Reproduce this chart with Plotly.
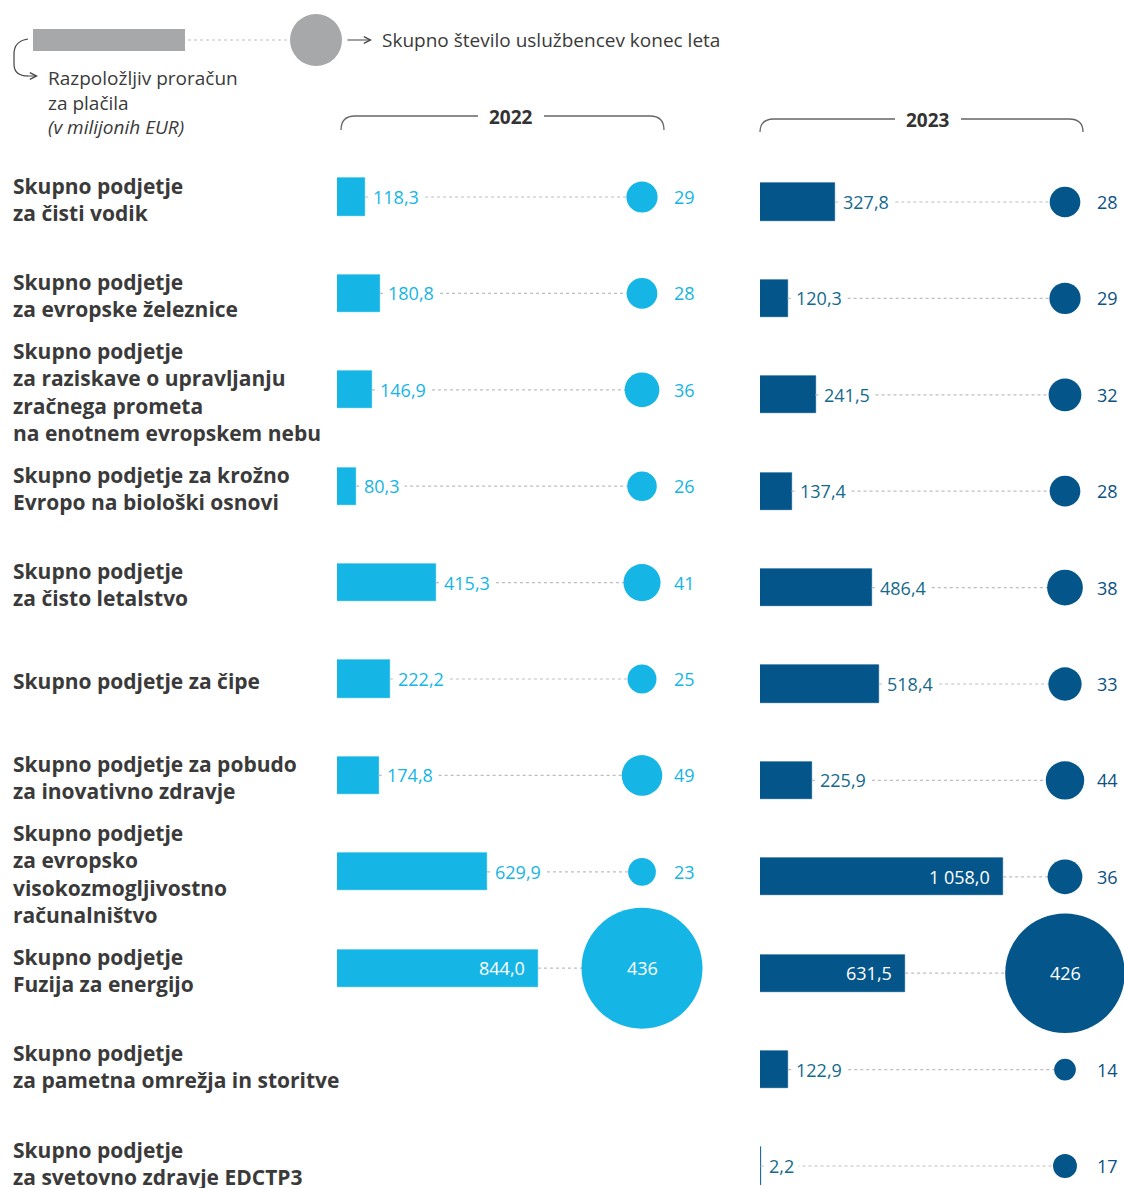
import plotly.graph_objects as go

W, H = 1124, 1188

# Data
names = [
    "Skupno podjetje<br>za čisti vodik",
    "Skupno podjetje<br>za evropske železnice",
    "Skupno podjetje<br>za raziskave o upravljanju<br>zračnega prometa<br>na enotnem evropskem nebu",
    "Skupno podjetje za krožno<br>Evropo na biološki osnovi",
    "Skupno podjetje<br>za čisto letalstvo",
    "Skupno podjetje za čipe",
    "Skupno podjetje za pobudo<br>za inovativno zdravje",
    "Skupno podjetje<br>za evropsko<br>visokozmogljivostno<br>računalništvo",
    "Skupno podjetje<br>Fuzija za energijo",
    "Skupno podjetje<br>za pametna omrežja in storitve",
    "Skupno podjetje<br>za svetovno zdravje EDCTP3",
]
budget_2022 = [118.3, 180.8, 146.9, 80.3, 415.3, 222.2, 174.8, 629.9, 844.0, None, None]
staff_2022 = [29, 28, 36, 26, 41, 25, 49, 23, 436, None, None]
budget_2023 = [327.8, 120.3, 241.5, 137.4, 486.4, 518.4, 225.9, 1058.0, 631.5, 122.9, 2.2]
staff_2023 = [28, 29, 32, 28, 38, 33, 44, 36, 426, 14, 17]
years = ["2022", "2023"]

FONT = "Open Sans"
TXT = "#3a3a3a"
LINE_GRAY = "#bdbdbd"
DASH = "3px,3px"


def px(x):
    return x / W


def py(y):
    return 1 - y / H


def fmt(v):
    return f"{v:,.1f}".replace(",", " ").replace(".", ",")


def row_range(first, pitch):
    return [(H - first) / pitch, -first / pitch]


panels = [
    dict(year=years[0], budget=budget_2022, staff=staff_2022, x0=337, x1=642, xmax=1281,
         first=197, color="#15b5e5", vcol="#15b5e5", scol="#15b5e5", xa="x", ya="y",
         br=(341, 664, 511, 116, 130)),
    dict(year=years[1], budget=budget_2023, staff=staff_2023, x0=760, x1=1065, xmax=1327,
         first=202, color="#04558a", vcol="#146a8c", scol="#0b5283", xa="x2", ya="y2",
         br=(760, 1083, 928, 119, 132)),
]

sizeref = 2 * max(staff_2022 + staff_2023, key=lambda v: v or 0) / (121 ** 2)

fig = go.Figure()
annotations = []
layout_axes = {}

for i, p in enumerate(panels):
    rows = [n for n, b in zip(names, p["budget"]) if b is not None]
    bvals = [b for b in p["budget"] if b is not None]
    svals = [s for s in p["staff"] if s is not None]

    # dashed connectors
    lx, ly = [], []
    for n, b in zip(rows, bvals):
        lx += [b, p["xmax"], None]
        ly += [n, n, None]
    fig.add_trace(go.Scatter(x=lx, y=ly, mode="lines", xaxis=p["xa"], yaxis=p["ya"],
                             line=dict(color=LINE_GRAY, width=1.2, dash=DASH),
                             hoverinfo="skip", showlegend=False))
    fig.add_trace(go.Bar(x=bvals, y=rows, orientation="h", width=0.385,
                         xaxis=p["xa"], yaxis=p["ya"],
                         marker=dict(color=p["color"], line=dict(width=0.6, color=p["color"])),
                         showlegend=False))
    fig.add_trace(go.Scatter(x=[p["xmax"]] * len(rows), y=rows, mode="markers",
                             xaxis=p["xa"], yaxis=p["ya"], cliponaxis=False,
                             marker=dict(size=svals, sizemode="area", sizeref=sizeref, opacity=1,
                                         color=p["color"], line=dict(width=0)),
                             showlegend=False))

    for n, b, s in zip(rows, bvals, svals):
        inside = b > 630
        annotations.append(dict(
            x=b, y=n, xref=p["xa"], yref=p["ya"], text=fmt(b), showarrow=False,
            xanchor="right" if inside else "left", yanchor="middle",
            xshift=-8 if inside else 3,
            font=dict(family=FONT, size=18, color="white" if inside else p["vcol"]),
            bgcolor=None if inside else "white", borderpad=4))
        big = s >= 100
        annotations.append(dict(
            x=p["xmax"], y=n, xref=p["xa"], yref=p["ya"], text=str(s), showarrow=False,
            xanchor="center", yanchor="middle", xshift=0 if big else 42,
            font=dict(family=FONT, size=18, color="white" if big else p["scol"])))

    suffix = "" if i == 0 else str(i + 1)
    layout_axes["xaxis" + suffix] = dict(domain=[px(p["x0"]), px(p["x1"])], range=[0, p["xmax"]],
                                         visible=False, anchor=p["ya"], fixedrange=True)
    layout_axes["yaxis" + suffix] = dict(domain=[0, 1], range=row_range(p["first"], 96.4),
                                         type="category", categoryorder="array",
                                         categoryarray=names, visible=False,
                                         anchor=p["xa"], fixedrange=True)

# row labels
for n in names:
    annotations.append(dict(x=px(11), y=n, xref="paper", yref="y", yshift=-2, text=f"<b>{n}</b>",
                            showarrow=False, xanchor="left", yanchor="middle", align="left",
                            font=dict(family=FONT, size=21, color=TXT)))

shapes = []
# year headers with brackets
for p in panels:
    xl, xr, tx, ytop, ybot = p["br"]
    annotations.append(dict(x=px(tx), y=py(ytop + 1), xref="paper", yref="paper",
                            text=f"<b>{p['year']}</b>", showarrow=False,
                            xanchor="center", yanchor="middle",
                            font=dict(family=FONT, size=19, color="#333333")))
    path = (f"M {px(xl)},{py(ybot)} Q {px(xl)},{py(ytop)} {px(xl + 14)},{py(ytop)} L {px(tx - 33)},{py(ytop)} "
            f"M {px(tx + 33)},{py(ytop)} L {px(xr - 14)},{py(ytop)} Q {px(xr)},{py(ytop)} {px(xr)},{py(ybot)}")
    shapes.append(dict(type="path", path=path, xref="paper", yref="paper",
                       line=dict(color="#666666", width=1.3)))

# legend key
shapes.append(dict(type="rect", xref="paper", yref="paper", x0=px(33), x1=px(185), y0=py(51), y1=py(29),
                   fillcolor="#a7a8aa", line=dict(width=0)))
shapes.append(dict(type="line", xref="paper", yref="paper", x0=px(188), x1=px(292), y0=py(40), y1=py(40),
                   line=dict(color=LINE_GRAY, width=1.2, dash=DASH)))
shapes.append(dict(type="circle", xref="paper", yref="paper", x0=px(290), x1=px(342), y0=py(66), y1=py(14),
                   fillcolor="#a7a8aa", line=dict(width=0)))
shapes.append(dict(type="path", xref="paper", yref="paper",
                   path=(f"M {px(28)},{py(39)} Q {px(14)},{py(41)} {px(14)},{py(54)} L {px(14)},{py(64)} "
                         f"Q {px(14)},{py(76)} {px(28)},{py(76)}"),
                   line=dict(color="#444444", width=1.2)))
annotations.append(dict(x=px(38), y=py(76), xref="paper", yref="paper", ax=-12, ay=0, text="",
                        showarrow=True, arrowhead=5, arrowsize=1.1, arrowwidth=1.2, arrowcolor="#444444"))
annotations.append(dict(x=px(372), y=py(40), xref="paper", yref="paper", ax=-26, ay=0, text="",
                        showarrow=True, arrowhead=5, arrowsize=1.1, arrowwidth=1.2, arrowcolor="#444444"))
annotations.append(dict(x=px(380), y=py(40), xref="paper", yref="paper", xanchor="left", yanchor="middle",
                        text="Skupno število uslužbencev konec leta", showarrow=False,
                        font=dict(family=FONT, size=19, color=TXT)))
annotations.append(dict(x=px(46), y=py(63), xref="paper", yref="paper", xanchor="left", yanchor="top",
                        align="left", showarrow=False,
                        text="Razpoložljiv proračun<br>za plačila<br><i>(v milijonih EUR)</i>",
                        font=dict(family=FONT, size=19, color=TXT)))

fig.update_layout(width=W, height=H, margin=dict(l=0, r=0, t=0, b=0),
                  paper_bgcolor="white", plot_bgcolor="rgba(0,0,0,0)",
                  bargap=0, annotations=annotations, shapes=shapes, **layout_axes)

# drop the page's default body margin so the figure fills the window exactly
fig.write_html("out.html", config={"displayModeBar": False},
               post_script="document.body.style.margin = '0';")
